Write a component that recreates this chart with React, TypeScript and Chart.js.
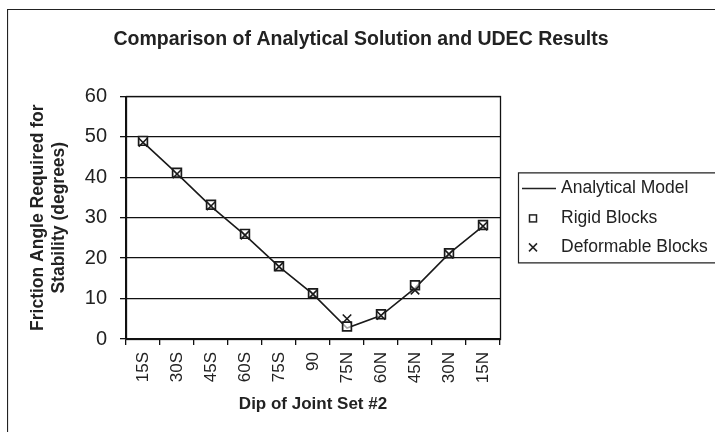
import React, { useEffect, useRef } from "react";
import { Chart, registerables } from "chart.js";

Chart.register(...registerables);

const categories = ["15S", "30S", "45S", "60S", "75S", "90", "75N", "60N", "45N", "30N", "15N"];
const analytical = [48.7, 40.9, 32.8, 25.7, 17.9, 11.1, 2.7, 5.8, 12.6, 21.1, 27.9];
const rigid = [49.0, 41.1, 33.2, 26.0, 18.0, 11.3, 3.1, 6.1, 13.3, 21.2, 28.2];
const deformable = [48.6, 40.8, 32.9, 25.7, 17.9, 11.1, 5.0, 5.8, 12.1, 21.0, 27.9];
const yTicks = [0, 10, 20, 30, 40, 50, 60];

const legendLabels = ["Analytical Model", "Rigid Blocks", "Deformable Blocks"];

const FONT = "'Liberation Sans', Arial, Helvetica, sans-serif";

const framePlugin = {
  id: "frame",
  beforeDraw(chart: any) {
    const ctx = chart.ctx;
    ctx.save();
    ctx.fillStyle = "#ffffff";
    ctx.fillRect(0, 0, chart.width, chart.height);
    ctx.restore();
  },
  afterDraw(chart: any) {
    const ctx = chart.ctx;
    const { left, right, top, bottom } = chart.chartArea;
    ctx.save();
    ctx.strokeStyle = "#222";
    ctx.lineWidth = 1.2;
    // outer chart frame (left + top visible)
    ctx.beginPath();
    ctx.moveTo(0.5, chart.height);
    ctx.lineTo(0.5, 0.5);
    ctx.lineTo(chart.width, 0.5);
    ctx.stroke();
    // plot area frame
    ctx.strokeStyle = "#111";
    ctx.lineWidth = 1.3;
    ctx.strokeRect(Math.round(left) + 0.5, Math.round(top) + 0.5, Math.round(right - left), Math.round(bottom - top));

    // legend
    const lx = right + 18;
    const ly = top + 76;
    const lh = 90;
    ctx.strokeStyle = "#222";
    ctx.lineWidth = 1.2;
    ctx.beginPath();
    ctx.moveTo(chart.width + 5, ly + 0.5);
    ctx.lineTo(lx + 0.5, ly + 0.5);
    ctx.lineTo(lx + 0.5, ly + lh + 0.5);
    ctx.lineTo(chart.width + 5, ly + lh + 0.5);
    ctx.stroke();

    const rows = [ly + 16, ly + 46, ly + 75];
    const textX = lx + 43;
    ctx.fillStyle = "#222";
    ctx.font = `17.5px ${FONT}`;
    ctx.textBaseline = "middle";
    ctx.textAlign = "left";
    legendLabels.forEach((t, i) => ctx.fillText(t, textX, rows[i]));
    // line sample
    ctx.strokeStyle = "#222";
    ctx.lineWidth = 1.5;
    ctx.beginPath();
    ctx.moveTo(lx + 4, rows[0]);
    ctx.lineTo(lx + 38, rows[0]);
    ctx.stroke();
    // square
    const cx = lx + 15;
    ctx.lineWidth = 1.5;
    ctx.strokeRect(cx - 3.5, rows[1] - 3.5, 7, 7);
    // cross
    ctx.beginPath();
    ctx.moveTo(cx - 4, rows[2] - 4);
    ctx.lineTo(cx + 4, rows[2] + 4);
    ctx.moveTo(cx + 4, rows[2] - 4);
    ctx.lineTo(cx - 4, rows[2] + 4);
    ctx.stroke();
    ctx.restore();
  },
};

export default function App() {
  const ref = useRef<HTMLCanvasElement | null>(null);

  useEffect(() => {
    if (!ref.current) return;
    const chart = new Chart(ref.current, {
      type: "line",
      data: {
        labels: categories,
        datasets: [
          {
            label: legendLabels[0],
            data: analytical,
            borderColor: "#1a1a1a",
            borderWidth: 1.6,
            pointRadius: 0,
            tension: 0,
            order: 3,
          },
          {
            label: legendLabels[1],
            data: rigid,
            showLine: false,
            pointStyle: "rect",
            pointRadius: 6.2,
            pointBorderColor: "#1a1a1a",
            pointBackgroundColor: "rgba(255,255,255,0.6)",
            pointBorderWidth: 1.7,
            order: 2,
          },
          {
            label: legendLabels[2],
            data: deformable,
            showLine: false,
            pointStyle: "crossRot",
            pointRadius: 6,
            pointBorderColor: "#1a1a1a",
            pointBorderWidth: 1.6,
            order: 1,
          },
        ],
      },
      plugins: [framePlugin],
      options: {
        animation: false,
        responsive: true,
        maintainAspectRatio: false,
        layout: { padding: { left: 0, right: 0, top: 0, bottom: 0 } },
        plugins: {
          legend: { display: false },
          tooltip: { enabled: false },
          title: {
            display: true,
            text: "Comparison of Analytical Solution and UDEC Results",
            color: "#222",
            font: { family: FONT, size: 19.5, weight: "bold" },
            padding: { top: 19, bottom: 45 },
          },
        },
        scales: {
          x: {
            type: "category",
            offset: true,
            afterFit(scale: any) {
              scale.height = 93;
            },
            grid: {
              display: true,
              offset: true,
              drawOnChartArea: false,
              drawTicks: true,
              tickLength: 6,
              color: "#111",
              lineWidth: 1.3,
            },
            border: { display: true, color: "#111", width: 1.3 },
            ticks: {
              color: "#222",
              font: { family: FONT, size: 17 },
              minRotation: 90,
              maxRotation: 90,
              padding: 7,
              autoSkip: false,
            },
            title: {
              display: true,
              text: "Dip of Joint Set #2",
              color: "#222",
              font: { family: FONT, size: 17, weight: "bold" },
              padding: { top: 0, bottom: 17 },
            },
          },
          y: {
            min: 0,
            max: 60,
            afterFit(scale: any) {
              scale.width = 119;
            },
            afterBuildTicks(scale: any) {
              scale.ticks = yTicks.map((v) => ({ value: v }));
            },
            grid: {
              color: "#111",
              lineWidth: 1.3,
              tickLength: 6,
              drawTicks: true,
            },
            border: { display: true, color: "#111", width: 1.3 },
            ticks: {
              color: "#222",
              font: { family: FONT, size: 20 },
              padding: 13,
            },
            title: {
              display: true,
              text: ["Friction Angle Required for", "Stability (degrees)"],
              color: "#222",
              font: { family: FONT, size: 17.5, weight: "bold", lineHeight: 1.2 },
              padding: { top: 21, bottom: 0 },
            },
          },
          yRightSpace: {
            type: "linear",
            position: "right",
            display: true,
            min: 0,
            max: 60,
            afterFit(scale: any) {
              scale.width = 215;
            },
            grid: { display: false, drawOnChartArea: false },
            border: { display: false },
            ticks: { display: false },
          },
        },
      },
    });
    return () => chart.destroy();
  }, []);

  return (
    <div style={{ position: "absolute", left: 7, top: 9, width: 708, height: 423 }}>
      <canvas ref={ref} />
    </div>
  );
}
